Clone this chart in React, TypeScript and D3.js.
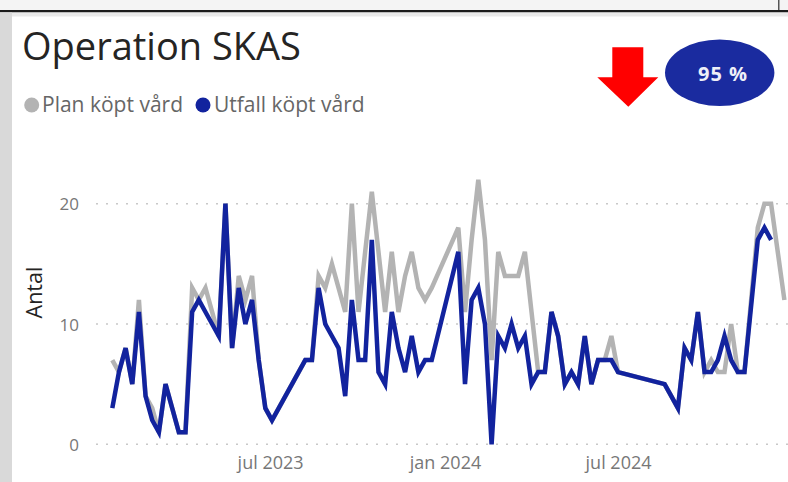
import React from 'react';
import * as d3 from 'd3';

// weeks counted from the first Monday in the data
const firstWeek = new Date(2023, 0, 16);
const weekNo = [
  0, 1, 2, 3, 4, 5, 6, 7, 8, 9, 10, 11, 12, 13, 14, 15, 16, 17, 18, 19, 20, 21, 22, 23, 24,
  29, 30, 31, 32, 33, 34, 35, 36, 37, 38, 39, 40, 41, 42, 43, 44, 45, 46, 47, 48,
  52, 53, 54, 55, 56, 57, 58, 59, 60, 61, 62, 63, 64, 65, 66, 67, 68, 69, 70, 71, 72, 73, 74, 75, 76,
  83, 84, 85, 86, 87, 88, 89, 90, 91, 92, 93, 94, 95,
  97, 98, 99, 100, 101,
];
const plan = [
  7, 6, 8, 5, 12, 4, 3, 1, 5, 3, 1, 1, 13, 12, 13, 11, 9, 20, 8, 14, 12, 14, 7, 3, 2,
  7, 7, 14, 13, 15, 13, 11, 20, 11, 16, 21, 16, 11, 16, 11, 14, 16, 13, 12, 13,
  18, 11, 17, 22, 17, 7, 16, 14, 14, 14, 16, 11, 6, 6, 11, 9, 5, 6, 5, 9, 5, 7, 7, 9, 6,
  5, 4, 3, 8, 7, 11, 6, 7, 6, 6, 10, 6, 6,
  18, 20, 20, 16, 12,
];
const utfall = [
  3, 6, 8, 5, 11, 4, 2, 1, 5, 3, 1, 1, 11, 12, 11, 10, 9, 20, 8, 13, 10, 12, 7, 3, 2,
  7, 7, 13, 10, 9, 8, 4, 12, 7, 7, 17, 6, 5, 11, 8, 6, 9, 6, 7, 7,
  16, 5, 12, 13, 10, 0, 9, 8, 10, 8, 9, 5, 6, 6, 11, 9, 5, 6, 5, 9, 5, 7, 7, 7, 6,
  5, 4, 3, 8, 7, 11, 6, 6, 7, 9, 7, 6, 6,
  17, 18, 17, null, null,
];
const yTicks = [0, 10, 20];
const xTicks = [new Date(2023, 6, 1), new Date(2024, 0, 1), new Date(2024, 6, 1)];
const months = ['jan', 'feb', 'mar', 'apr', 'maj', 'jun', 'jul', 'aug', 'sep', 'okt', 'nov', 'dec'];
const kpi = '95 %';

const FONT = "'Segoe UI', 'Open Sans', sans-serif";
const GREY = '#b3b3b3';
const BLUE = '#12239e';

const weekDate = (n: number) => d3.timeDay.offset(firstWeek, n * 7);
const dates = weekNo.map(weekDate);

const x = d3.scaleTime().domain([weekDate(0), weekDate(101)]).range([112.3, 784.4]);
const y = d3.scaleLinear().domain([0, 20]).range([444.3, 203.7]);

const line = d3.line<[Date, number]>().x(d => x(d[0])).y(d => y(d[1]));
const toPoints = (vals: (number | null)[]) =>
  vals.map((v, i) => [dates[i], v] as [Date, number | null]).filter(d => d[1] !== null) as [Date, number][];

const YAxis = () => {
  const axis = d3.axisLeft(y).tickValues(yTicks).tickSize(0).tickPadding(0);
  return (
    <g transform="translate(79, 0)" ref={node => {
      if (!node) return;
      const g = d3.select(node).call(axis);
      g.select('.domain').remove();
      g.selectAll('text').attr('font-family', FONT).attr('font-size', 17).attr('fill', '#777').attr('dy', '0.36em');
    }} />
  );
};

const XAxis = () => {
  const axis = d3.axisBottom(x).tickValues(xTicks).tickSize(0).tickPadding(3)
    .tickFormat(d => months[(d as Date).getMonth()] + ' ' + (d as Date).getFullYear());
  return (
    <g transform="translate(0, 453)" ref={node => {
      if (!node) return;
      const g = d3.select(node).call(axis);
      g.select('.domain').remove();
      g.selectAll('text').attr('font-family', FONT).attr('font-size', 18).attr('fill', '#777');
    }} />
  );
};

export default function App() {
  return (
    <svg width={788} height={482} style={{ position: 'absolute', left: 0, top: 0, background: '#fff' }}>
      {/* frame around the visual */}
      <rect x={0} y={0} width={788} height={10} fill="#f4f4f4" />
      <rect x={0} y={10} width={788} height={2.5} fill="#1b1b1b" />
      <rect x={0} y={12.5} width={788} height={4} fill="#e9e9e9" />
      <rect x={0} y={12.5} width={12} height={470} fill="#d9d9d9" />
      <rect x={778} y={0} width={1.5} height={10} fill="#555" />

      <text x={22} y={60} fontFamily={FONT} fontSize={38} fill="#252423">Operation SKAS</text>

      <circle cx={31.7} cy={105} r={7.5} fill={GREY} />
      <text x={42} y={112} fontFamily={FONT} fontSize={21} fill="#666">Plan köpt vård</text>
      <circle cx={203} cy={105} r={7.5} fill={BLUE} />
      <text x={214} y={112} fontFamily={FONT} fontSize={21} fill="#666">Utfall köpt vård</text>

      <path d="M612.3,47.3 L643.3,47.3 L643.3,77.3 L658.3,77.3 L628.3,106.7 L597.3,77.3 L612.3,77.3 Z" fill="#ff0000" />
      <ellipse cx={719.7} cy={72.7} rx={54.7} ry={33.3} fill="#1a2b9f" />
      <text x={723} y={80.5} textAnchor="middle" fontFamily={FONT} fontSize={20} fontWeight="bold" fill="#eef0f8" letterSpacing={1}>{kpi}</text>

      {yTicks.map(t => (
        <line key={t} x1={96} x2={788} y1={y(t)} y2={y(t)} stroke="#c8c8c8" strokeWidth={1.5} strokeDasharray="2,8" />
      ))}
      <YAxis />
      <XAxis />
      <text transform="translate(42, 292.5) rotate(-90)" textAnchor="middle" fontFamily={FONT} fontSize={21.5} fill="#252423">Antal</text>

      <path d={line(toPoints(plan)) || ''} fill="none" stroke={GREY} strokeWidth={4.5} />
      <path d={line(toPoints(utfall)) || ''} fill="none" stroke={BLUE} strokeWidth={4.5} />
    </svg>
  );
}
